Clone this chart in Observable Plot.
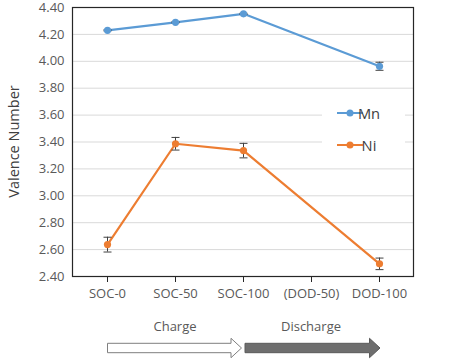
<!DOCTYPE html>
<html>
<head>
<meta charset="utf-8">
<script src="https://cdn.jsdelivr.net/npm/d3@7"></script>
<script src="https://cdn.jsdelivr.net/npm/@observablehq/plot@0.6"></script>
<style>
  html, body { margin: 0; padding: 0; background: #fff; }
  #chart svg { display: block; font-family: "Open Sans", "Noto Sans", sans-serif; }
</style>
</head>
<body>
<div id="chart"></div>
<script>
// ---- data ----
const categories = ["SOC-0", "SOC-50", "SOC-100", "(DOD-50)", "DOD-100"];
const mnValues = [4.23, 4.29, 4.353, null, 3.963];
const mnErrors = [0.004, 0.004, 0.004, null, 0.03];
const niValues = [2.637, 3.387, 3.336, null, 2.494];
const niErrors = [0.055, 0.047, 0.054, null, 0.043];
const yTicks = [2.4, 2.6, 2.8, 3.0, 3.2, 3.4, 3.6, 3.8, 4.0, 4.2, 4.4];
const seriesNames = ["Mn", "Ni"];
const seriesColors = ["#5B9BD5", "#ED7D31"];
const phases = [
  {label: "Charge", from: "SOC-0", to: "SOC-100", fill: "#ffffff"},
  {label: "Discharge", from: "SOC-100", to: "DOD-100", fill: "#6e6e6e"}
];
const yLabel = "Valence Number";

// ---- table built from the arrays ----
const rows = [];
[mnValues, niValues].forEach((vals, s) => {
  vals.forEach((v, i) => {
    if (v != null) rows.push({
      series: seriesNames[s], cat: categories[i], v,
      lo: v - (s === 0 ? mnErrors[i] : niErrors[i]),
      hi: v + (s === 0 ? mnErrors[i] : niErrors[i])
    });
  });
});

const capSymbol = {
  draw(ctx, size) {
    const w = 4;
    ctx.moveTo(-w, 0); ctx.lineTo(w, 0);
  }
};

function decorations(index, scales, values, dim) {
  const g = d3.create("svg:g").attr("font-family", '"Open Sans", "Noto Sans", sans-serif');
  const x = scales.x;
  // y-axis label
  const yMid = (dim.marginTop + dim.height - dim.marginBottom) / 2;
  g.append("text")
    .attr("transform", `translate(13,${yMid}) rotate(-90)`)
    .attr("text-anchor", "middle").attr("dominant-baseline", "central")
    .attr("font-size", 14.5).attr("fill", "#404040").text(yLabel);
  // legend
  const lx = dim.width - dim.marginRight - 91;
  const ly = dim.marginTop + 88;
  g.append("rect").attr("x", lx).attr("y", ly).attr("width", 83).attr("height", 64).attr("fill", "#fff");
  seriesNames.forEach((name, i) => {
    const yy = ly + 18 + i * 32;
    g.append("line").attr("x1", lx + 15).attr("x2", lx + 41).attr("y1", yy).attr("y2", yy)
      .attr("stroke", seriesColors[i]).attr("stroke-width", 2);
    g.append("circle").attr("cx", lx + 28).attr("cy", yy).attr("r", 3.5).attr("fill", seriesColors[i]);
    g.append("text").attr("x", lx + 47).attr("y", yy).attr("dominant-baseline", "central")
      .attr("font-size", 14.7).attr("fill", "#404040").text(name);
  });
  // phase labels and arrows
  const ty = dim.height - 34;
  const ay = dim.height - 12;
  phases.forEach((p, i) => {
    const x0 = x(p.from), x1 = x(p.to);
    g.append("text").attr("x", (x0 + x1) / 2).attr("y", ty).attr("text-anchor", "middle")
      .attr("dominant-baseline", "central").attr("font-size", 13).attr("fill", "#595959").text(p.label);
    const start = x0 + (i === 0 ? 0.5 : 2);
    const tip = x1 + (i === 0 ? -1.5 : 1);
    const head = tip - 10.5;
    const pts = [
      [start, ay - 4.7], [head, ay - 4.7], [head, ay - 9.7], [tip, ay],
      [head, ay + 9.7], [head, ay + 4.7], [start, ay + 4.7]
    ];
    g.append("polygon").attr("points", pts.map(d => d.join(",")).join(" "))
      .attr("fill", p.fill).attr("stroke", i === 0 ? "#7f7f7f" : "#5a5a5a").attr("stroke-width", 1);
  });
  return g.node();
}

const chart = Plot.plot({
  width: 450,
  height: 360,
  marginLeft: 72,
  marginRight: 37,
  marginTop: 7,
  marginBottom: 84,
  style: {fontFamily: '"Open Sans", "Noto Sans", sans-serif', background: "#fff"},
  x: {type: "point", domain: categories, padding: 0.5, label: null},
  y: {domain: [2.4, 4.4], label: null},
  marks: [
    Plot.gridY(yTicks, {stroke: "#d9d9d9", strokeOpacity: 1}),
    Plot.axisY(yTicks, {tickFormat: d3.format(".2f"), tickSize: 0, tickPadding: 8, fontSize: 13, color: "#595959", label: null}),
    Plot.axisX(categories, {tickSize: 6, tickPadding: 6, fontSize: 13, color: "#595959", stroke: "#262626", label: null}),
    decorations,
    Plot.frame({stroke: "#262626", strokeWidth: 1.2}),
    Plot.line(rows, {x: "cat", y: "v", z: "series", stroke: "series", strokeWidth: 2.2}),
    Plot.ruleX(rows, {x: "cat", y1: "lo", y2: "hi", stroke: "#404040", strokeWidth: 1}),
    Plot.dot(rows, {x: "cat", y: "lo", symbol: capSymbol, stroke: "#404040", strokeWidth: 1, r: 4}),
    Plot.dot(rows, {x: "cat", y: "hi", symbol: capSymbol, stroke: "#404040", strokeWidth: 1, r: 4}),
    Plot.dot(rows, {x: "cat", y: "v", fill: "series", r: 3.6})
  ],
  color: {domain: seriesNames, range: seriesColors}
});
document.getElementById("chart").append(chart);
</script>
</body>
</html>
